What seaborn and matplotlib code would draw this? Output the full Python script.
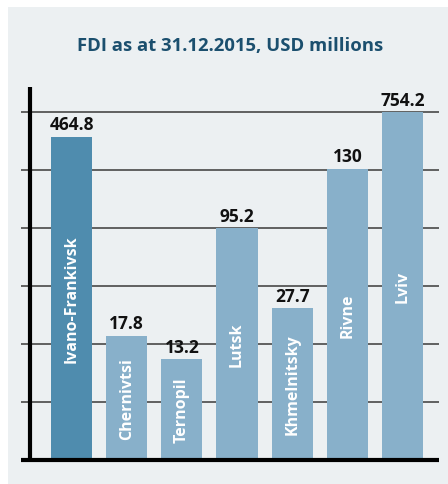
import matplotlib
matplotlib.use("Agg")
import matplotlib.pyplot as plt
import seaborn as sns
import pandas as pd

# ── data ────────────────────────────────────────────────
regions = ["Ivano-Frankivsk", "Chernivtsi", "Ternopil", "Lutsk",
           "Khmelnitsky", "Rivne", "Lviv"]
fdi_labels = ["464.8", "17.8", "13.2", "95.2", "27.7", "130", "754.2"]
# bar heights as drawn in the picture (grid units, not to scale with the values)
bar_height = [5.57, 2.14, 1.74, 4.0, 2.62, 5.02, 6.0]
bar_colors = ["#4f8cae", "#88b0ca", "#88b0ca", "#88b0ca",
              "#88b0ca", "#88b0ca", "#88b0ca"]

df = pd.DataFrame({"region": regions, "height": bar_height})

sns.set_theme(style="white")
plt.rcParams["font.family"] = ["Open Sans", "DejaVu Sans"]

W, H = 448, 485
fig = plt.figure(figsize=(W / 100, H / 100), dpi=100, facecolor="white")

# grey panel behind everything
fig.patches.append(plt.Rectangle((8 / W, 0), 1 - 8 / W, 1 - 8 / H,
                                 transform=fig.transFigure,
                                 facecolor="#ecf0f2", edgecolor="none", zorder=-10))

# axes placed in pixels: x from 21 to 439, y from baseline
unit = 58.0
base = 461.0
ylo, yhi = -0.1, 6.45
x0, x1 = 21, 439
ax_bottom = base + (-ylo) * unit
ax_top = base - yhi * unit
ax = fig.add_axes([x0 / W, 1 - ax_bottom / H, (x1 - x0) / W, (ax_bottom - ax_top) / H])
ax.set_facecolor("none")

sns.barplot(data=df, x="region", y="height", hue="region", palette=bar_colors,
            width=0.745, legend=False, saturation=1, linewidth=0, ax=ax, zorder=3)

step = 55.17
xl = (x0 - 71.5) / step
xr = (x1 - 71.5) / step
ax.set_xlim(xl, xr)
ax.set_ylim(ylo, yhi)

for g in range(1, 7):
    ax.axhline(g, color="#3a3a3a", lw=1.1, zorder=1)
ax.axhline(0, color="black", lw=3, zorder=5)
vx = (30 - 71.5) / step
ax.plot([vx, vx], [0, 6.43], color="black", lw=3, zorder=5, solid_capstyle="butt")

for i, (h, lab, reg) in enumerate(zip(bar_height, fdi_labels, regions)):
    ax.text(i, h + 0.06, lab, ha="center", va="bottom", fontsize=12.5,
            fontweight="bold", color="#111111", zorder=6)
    ax.text(i, h / 2, reg, ha="center", va="center", rotation=90,
            fontsize=11.5, fontweight="bold", color="white", zorder=6)

for s in ax.spines.values():
    s.set_visible(False)
ax.set_xticks([])
ax.set_yticks([])
ax.set_xlabel("")
ax.set_ylabel("")

fig.text(230 / W, 1 - 46 / H, "FDI as at 31.12.2015, USD millions",
         ha="center", va="center", fontsize=13.3, fontweight="bold", color="#1b4f6e")

fig.savefig("out.png", dpi=100, facecolor="white")
